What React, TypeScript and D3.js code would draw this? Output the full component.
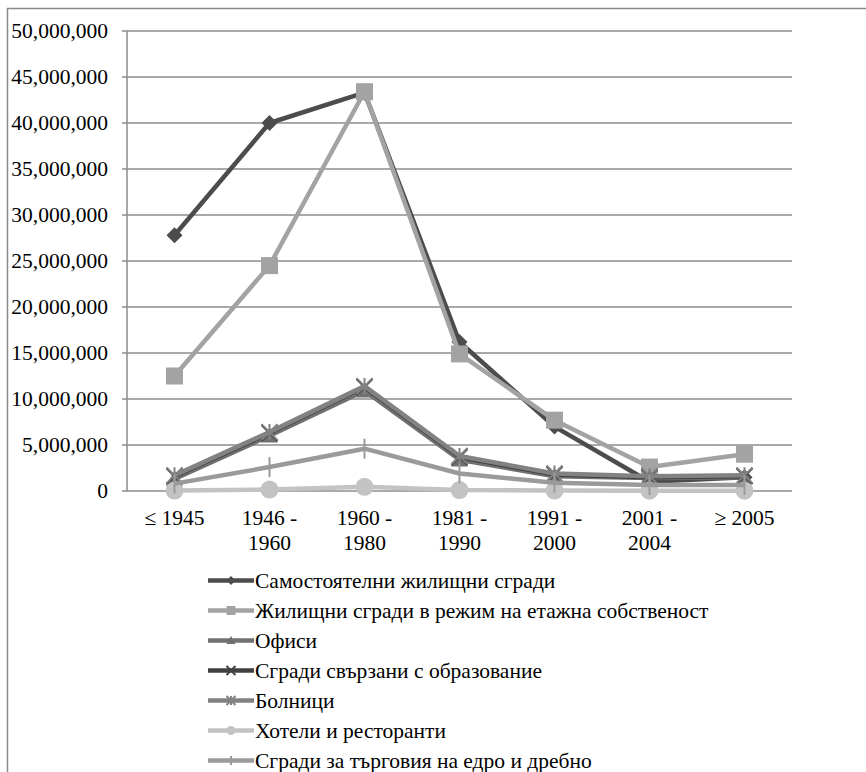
import React from "react";
import * as d3 from "d3";

// Construction periods (multi-line category labels)
const periods: string[][] = [
  ["≤ 1945"],
  ["1946 -", "1960"],
  ["1960 -", "1980"],
  ["1981 -", "1990"],
  ["1991 -", "2000"],
  ["2001 -", "2004"],
  ["≥ 2005"],
];

const yTicks = [0, 5e6, 10e6, 15e6, 20e6, 25e6, 30e6, 35e6, 40e6, 45e6, 50e6];

const seriesNames = [
  "Самостоятелни жилищни сгради",
  "Жилищни сгради в режим на етажна собственост",
  "Офиси",
  "Сгради свързани с образование",
  "Болници",
  "Хотели и ресторанти",
  "Сгради за търговия на едро и дребно",
];

const detachedHouses = [27.8e6, 40.0e6, 43.3e6, 16.2e6, 7.0e6, 1.0e6, 1.5e6];
const apartmentBlocks = [12.5e6, 24.5e6, 43.4e6, 14.9e6, 7.7e6, 2.6e6, 4.0e6];
const offices = [1.3e6, 6.0e6, 10.9e6, 3.4e6, 1.6e6, 1.4e6, 1.5e6];
const education = [1.6e6, 6.3e6, 11.3e6, 3.7e6, 1.8e6, 1.5e6, 1.6e6];
const hospitals = [1.7e6, 6.4e6, 11.4e6, 3.8e6, 1.9e6, 1.6e6, 1.7e6];
const hotels = [0.05e6, 0.15e6, 0.45e6, 0.1e6, 0.05e6, 0.03e6, 0.03e6];
const trade = [0.8e6, 2.6e6, 4.6e6, 1.9e6, 0.9e6, 0.65e6, 0.65e6];

const seriesValues = [detachedHouses, apartmentBlocks, offices, education, hospitals, hotels, trade];

type MarkerKind = "diamond" | "square" | "triangle" | "x" | "star" | "circle" | "plus";
const markerKinds: MarkerKind[] = ["diamond", "square", "triangle", "x", "star", "circle", "plus"];
const colors = ["#4c4c4c", "#a3a3a3", "#707070", "#404040", "#828282", "#c3c3c3", "#9a9a9a"];

const FONT = "Liberation Serif, Times New Roman, serif";

function Marker({ kind, x, y, color, s }: { kind: MarkerKind; x: number; y: number; color: string; s: number }) {
  const h = s / 2;
  switch (kind) {
    case "diamond":
      return <path d={`M${x},${y - h}L${x + h},${y}L${x},${y + h}L${x - h},${y}Z`} fill={color} />;
    case "square":
      return <rect x={x - h} y={y - h} width={s} height={s} fill={color} />;
    case "triangle":
      return <path d={`M${x},${y - h}L${x + h},${y + h * 0.8}L${x - h},${y + h * 0.8}Z`} fill={color} />;
    case "x":
      return (
        <path d={`M${x - h},${y - h}L${x + h},${y + h}M${x - h},${y + h}L${x + h},${y - h}`} stroke={color} strokeWidth={2} />
      );
    case "star":
      return (
        <path
          d={`M${x - h},${y - h}L${x + h},${y + h}M${x - h},${y + h}L${x + h},${y - h}M${x},${y - h}L${x},${y + h}`}
          stroke={color}
          strokeWidth={2}
        />
      );
    case "circle":
      return <circle cx={x} cy={y} r={h} fill={color} />;
    case "plus":
      return <path d={`M${x},${y - h}L${x},${y + h}`} stroke={color} strokeWidth={2} />;
  }
}

const markerSizes: Record<MarkerKind, number> = {
  diamond: 16,
  square: 17,
  triangle: 17,
  x: 16,
  star: 16,
  circle: 18,
  plus: 20,
};

export default function App() {
  const width = 866;
  const height = 772;
  const left = 127;
  const right = 792;
  const top = 31;
  const bottom = 491;
  const fontSize = 21.5;

  const x = d3
    .scaleBand<number>()
    .domain(d3.range(periods.length))
    .range([left, right]);
  const cx = (i: number) => (x(i) as number) + x.bandwidth() / 2;
  const y = d3.scaleLinear().domain([0, 50e6]).range([bottom, top]);

  const line = d3
    .line<number>()
    .x((_, i) => cx(i))
    .y((d) => y(d));

  const fmt = d3.format(",");

  const legendX0 = 208;
  const legendX1 = 254;
  const legendY0 = 580.5;
  const legendStep = 30;

  const textStyle = { fontFamily: FONT, fontSize };

  return (
    <svg width={width} height={height} style={{ display: "block", position: "absolute", left: 0, top: 0 }}>
      <rect x={0} y={0} width={width} height={height} fill="#fff" />
      {/* chart frame (top and left edges visible) */}
      <path d={`M7.5,${height + 5}V8.5H${width + 5}`} fill="none" stroke="#8a8a8a" strokeWidth={1.5} />

      {/* gridlines and value axis */}
      {yTicks.map((t) => (
        <g key={t}>
          <line x1={left - 5} x2={right} y1={y(t)} y2={y(t)} stroke="#8c8c8c" strokeWidth={1.5} />
          <text x={108} y={y(t)} textAnchor="end" dominantBaseline="central" style={textStyle} fill="#000">
            {fmt(t)}
          </text>
        </g>
      ))}
      <line x1={left} x2={left} y1={top} y2={bottom} stroke="#8c8c8c" strokeWidth={1.5} />

      {/* category labels */}
      {periods.map((lines, i) => (
        <text key={i} x={cx(i)} textAnchor="middle" style={textStyle} fill="#000">
          {lines.map((l, j) => (
            <tspan key={j} x={cx(i)} y={525 + j * 25}>
              {l}
            </tspan>
          ))}
        </text>
      ))}

      {/* series lines and markers */}
      {seriesValues.map((vals, si) => (
        <g key={si}>
          <path d={line(vals) ?? ""} fill="none" stroke={colors[si]} strokeWidth={4.5} strokeLinejoin="round" />
          {vals.map((v, i) => (
            <Marker key={i} kind={markerKinds[si]} x={cx(i)} y={y(v)} color={colors[si]} s={markerSizes[markerKinds[si]]} />
          ))}
        </g>
      ))}

      {/* legend */}
      {seriesNames.map((name, si) => {
        const ly = legendY0 + si * legendStep;
        return (
          <g key={name}>
            <line x1={legendX0} x2={legendX1} y1={ly} y2={ly} stroke={colors[si]} strokeWidth={4.5} />
            <Marker kind={markerKinds[si]} x={(legendX0 + legendX1) / 2} y={ly} color={colors[si]} s={9} />
            <text x={255} y={ly} dominantBaseline="central" style={textStyle} fill="#000">
              {name}
            </text>
          </g>
        );
      })}
    </svg>
  );
}
